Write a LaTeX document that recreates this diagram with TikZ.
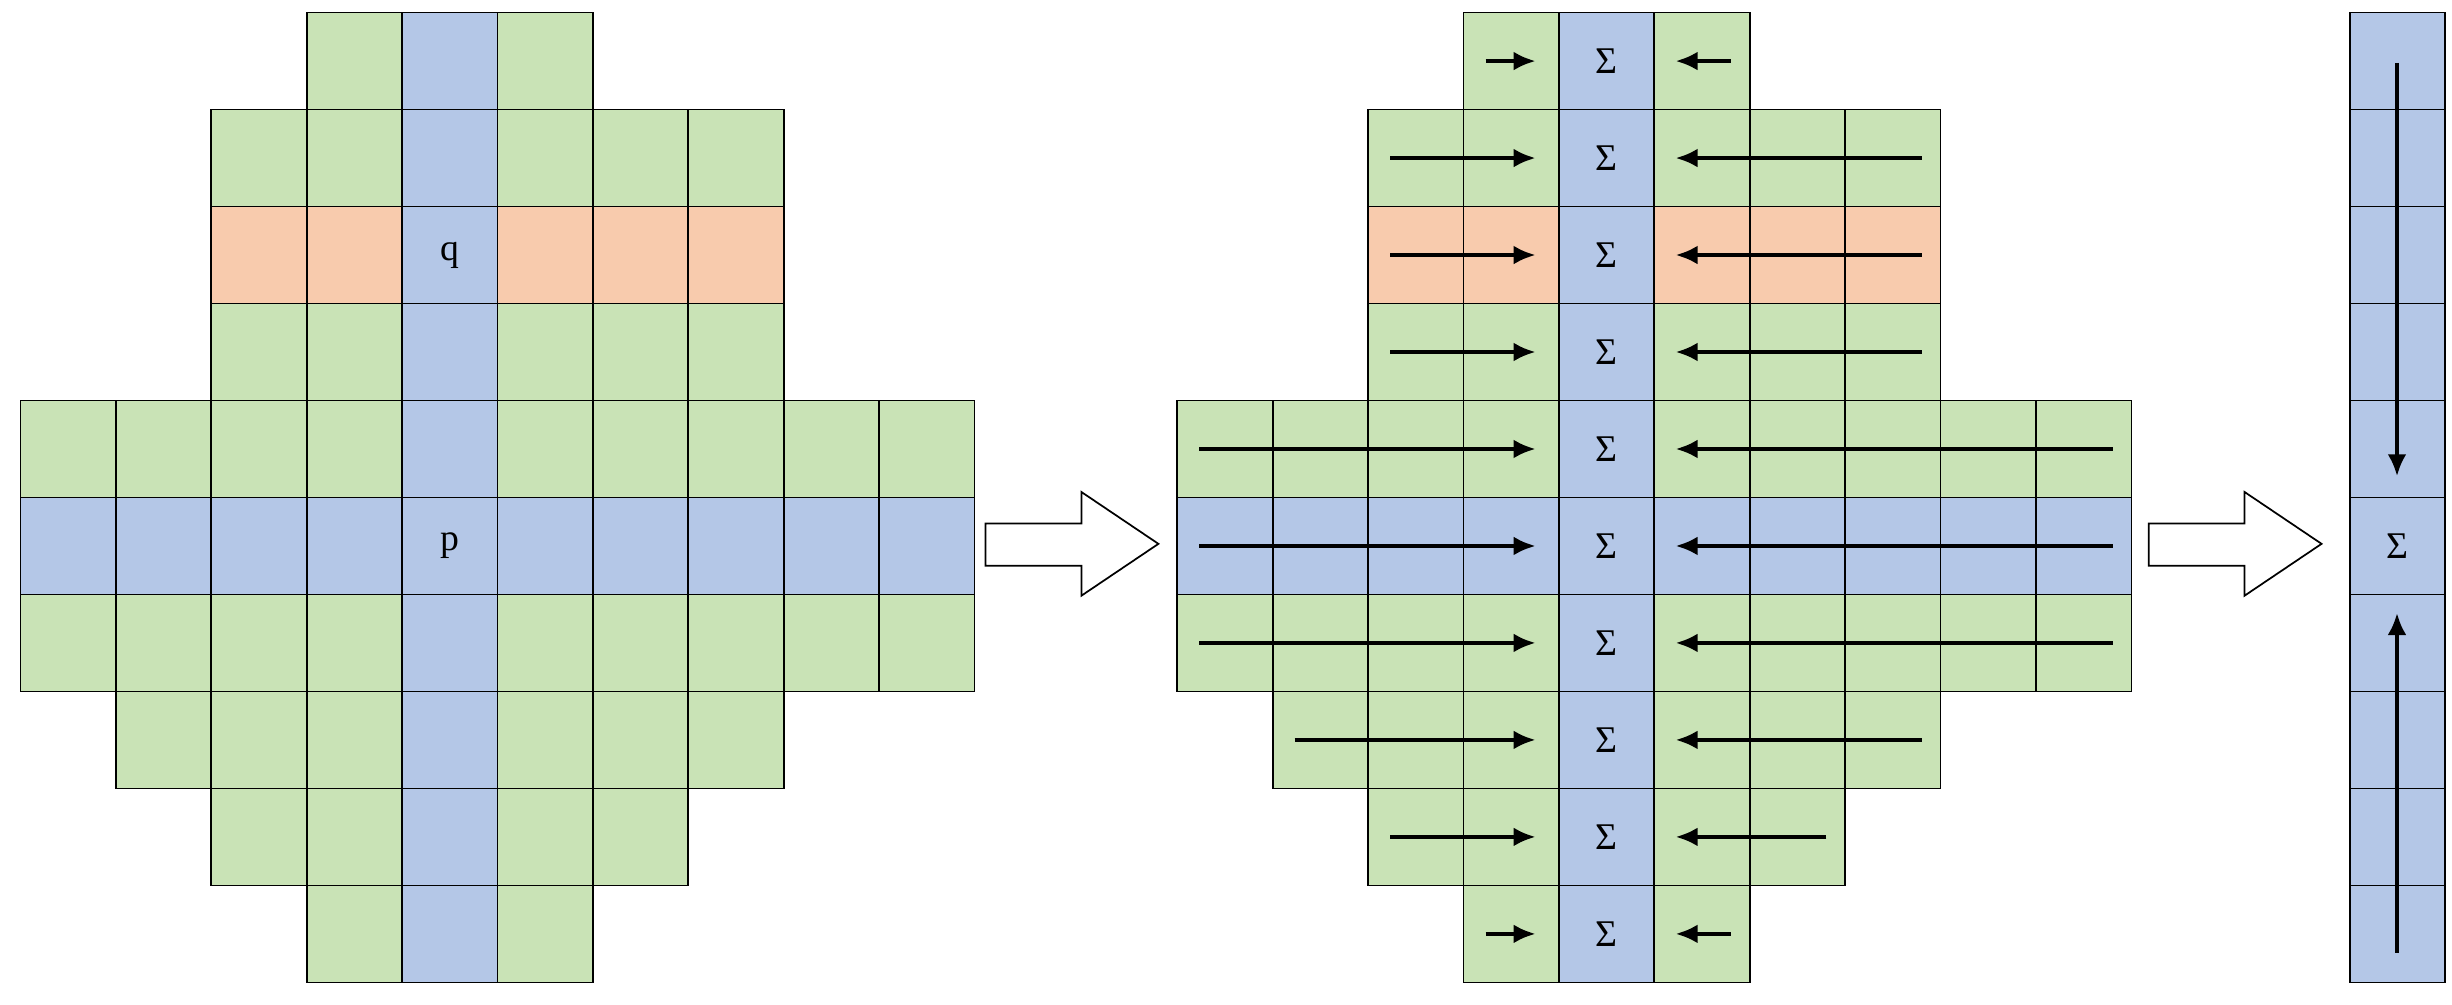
\documentclass[tikz,border=0pt]{standalone}
\usepackage{fontspec}
\setmainfont{Liberation Serif}
\usetikzlibrary{arrows.meta}
\definecolor{cg}{HTML}{C9E3B6}
\definecolor{cb}{HTML}{B4C7E7}
\definecolor{co}{HTML}{F8CBAD}
\begin{document}
\begin{tikzpicture}[x=1pt,y=-1pt,
  cell/.style={draw=black,line width=1.1pt},
  lbl/.style={font=\fontsize{24}{24}\selectfont,inner sep=0pt},
  arr/.style={line width=2.6pt,-{Latex[length=14,width=12]}},
  hollow/.style={draw=black,line width=1.1pt,fill=white}]
\useasboundingbox (0,0) rectangle (1560,639);
\def\cw{60.7}\def\ch{61.7}
% two grids
\foreach \gx in {13,749}{
 \foreach \r/\lo/\hi in {0/3/5,1/2/7,2/2/7,3/2/7,4/0/9,5/0/9,6/0/9,7/1/7,8/2/6,9/3/5}{
  \foreach \c in {\lo,...,\hi}{
   \ifnum\r=5 \def\fc{cb}\else\ifnum\c=4 \def\fc{cb}\else\ifnum\r=2 \def\fc{co}\else\def\fc{cg}\fi\fi\fi
   \path[cell,fill=\fc] (\gx+\c*\cw,8+\r*\ch) rectangle ++(\cw,\ch);
  }
 }
}
% right column
\foreach \r in {0,...,9}{\path[cell,fill=cb] (1495,8+\r*\ch) rectangle ++(\cw,\ch);}
% labels
\node[lbl] (q) at (286,8+2.5*\ch) {q};
\node[lbl] (p) at (286,8+5.5*\ch) {p};
\foreach \r in {0,...,9}{\node[lbl] (s\r) at (1022,8+\r*\ch+0.5*\ch) {Σ};}
\node[lbl] (sr) at (1525,8+5.5*\ch) {Σ};
% row arrows
\foreach \r/\lo/\hi in {0/3/5,1/2/7,2/2/7,3/2/7,4/0/9,5/0/9,6/0/9,7/1/7,8/2/6,9/3/5}{
  \coordinate (la\r) at (749+\lo*\cw+14,8+\r*\ch+0.5*\ch);
  \coordinate (lb\r) at (977,8+\r*\ch+0.5*\ch);
  \coordinate (ra\r) at (749+\hi*\cw+\cw-12,8+\r*\ch+0.5*\ch);
  \coordinate (rb\r) at (1066,8+\r*\ch+0.5*\ch);
  \draw[arr] (la\r) -- (lb\r);
  \draw[arr] (ra\r) -- (rb\r);
}
% column arrows
\coordinate (d1) at (1525,40); \coordinate (d2) at (1525,303);
\coordinate (u1) at (1525,606); \coordinate (u2) at (1525,390);
\draw[arr] (d1) -- (d2);
\draw[arr] (u1) -- (u2);
% hollow arrows
\foreach \x in {627,1367}{
 \path[hollow] (\x,333) -- (\x+61,333) -- (\x+61,313) -- (\x+110,346) -- (\x+61,379) -- (\x+61,360) -- (\x,360) -- cycle;
}
\end{tikzpicture}
\end{document}
